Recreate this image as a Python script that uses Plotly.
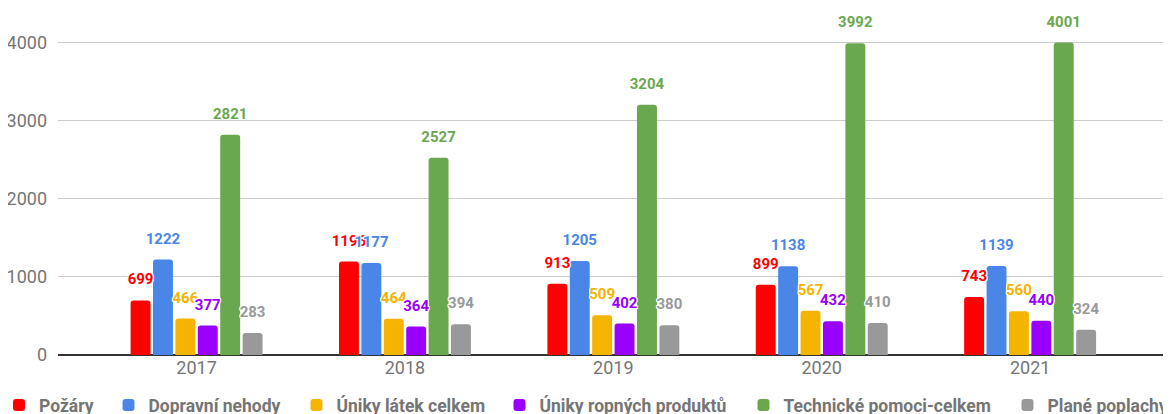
import plotly.graph_objects as go

years = ["2017", "2018", "2019", "2020", "2021"]
series_names = ["Požáry", "Dopravní nehody", "Úniky látek celkem", "Úniky ropných produktů",
                "Technické pomoci-celkem", "Plané poplachy"]
pozary = [699, 1196, 913, 899, 743]
dopravni = [1222, 1177, 1205, 1138, 1139]
uniky_latek = [466, 464, 509, 567, 560]
uniky_ropnych = [377, 364, 402, 432, 440]
technicke = [2821, 2527, 3204, 3992, 4001]
plane = [283, 394, 380, 410, 324]
colors = ["#ff0000", "#4a86e8", "#f4b400", "#9900ff", "#6aa84f", "#999999"]

values = [pozary, dopravni, uniky_latek, uniky_ropnych, technicke, plane]

# page body has an 8px default margin; the figure is placed at (8, 8)
OFF = 8
W, H = 1171 - OFF, 414 - OFF
# target plot area in page pixels: x 58..1171, y 27..355
L, R, T = 58 - OFF, 0, 27 - OFF
B = H - (355 - OFF)
PW = W - L - R
PH = H - T - B

# legend swatch centres (page pixels) in the reference
legend_px = [18, 127.5, 315.5, 518.5, 762.5, 1026.5]
legend_cy = 405

halo = ("1px 1px 0px white, -1px -1px 0px white, 1px -1px 0px white, -1px 1px 0px white, "
        "0px 1px 0px white, 0px -1px 0px white, 1px 0px 0px white, -1px 0px 0px white")

fig = go.Figure()
for i, (name, vals, col) in enumerate(zip(series_names, values, colors)):
    lg = "legend" if i == 0 else f"legend{i+1}"
    fig.add_trace(go.Bar(
        x=years, y=vals, name=name, legend=lg, offsetgroup=str(i),
        marker=dict(color=col, cornerradius=3, line=dict(width=0)),
        hoverinfo="x+y+name",
    ))
for i, (name, vals, col) in enumerate(zip(series_names, values, colors)):
    fig.add_trace(go.Scatter(
        x=years, y=vals, mode="text+markers", offsetgroup=str(i), showlegend=False,
        marker=dict(size=18, opacity=0, color=col),
        text=[str(v) for v in vals], textposition="top center",
        textfont=dict(family="Roboto", size=15, color=col, weight="bold", shadow=halo),
        cliponaxis=False, hoverinfo="skip",
    ))

layout = dict(
    width=W, height=H,
    margin=dict(l=L, r=R, t=T, b=B, autoexpand=False),
    paper_bgcolor="white", plot_bgcolor="white",
    barmode="group", bargap=0.355, bargroupgap=0.11,
    scattermode="group", scattergap=0.355,
    font=dict(family="Roboto", color="#757575"),
    xaxis=dict(type="category", range=[-0.665, 4.676], showgrid=False,
               tickfont=dict(size=18, color="#757575"), ticks="", showline=False),
    yaxis=dict(range=[0, 4200], tickvals=[0, 1000, 2000, 3000, 4000],
               gridcolor="#cccccc", gridwidth=1, zeroline=True, zerolinecolor="#333333",
               zerolinewidth=1.5, tickfont=dict(size=18, color="#757575"), ticklabelstandoff=10),
    showlegend=True,
)
leg_y = -((legend_cy - OFF) - (H - B)) / PH
for i, px in enumerate(legend_px):
    key = "legend" if i == 0 else f"legend{i+1}"
    layout[key] = dict(
        orientation="h", x=(px - OFF - 19 - L) / PW, y=leg_y, xanchor="left", yanchor="middle",
        font=dict(family="Roboto", size=17.5, color="#757575", weight="bold"),
        bgcolor="rgba(0,0,0,0)",
    )
fig.update_layout(**layout)

fig.write_html("out.html")
